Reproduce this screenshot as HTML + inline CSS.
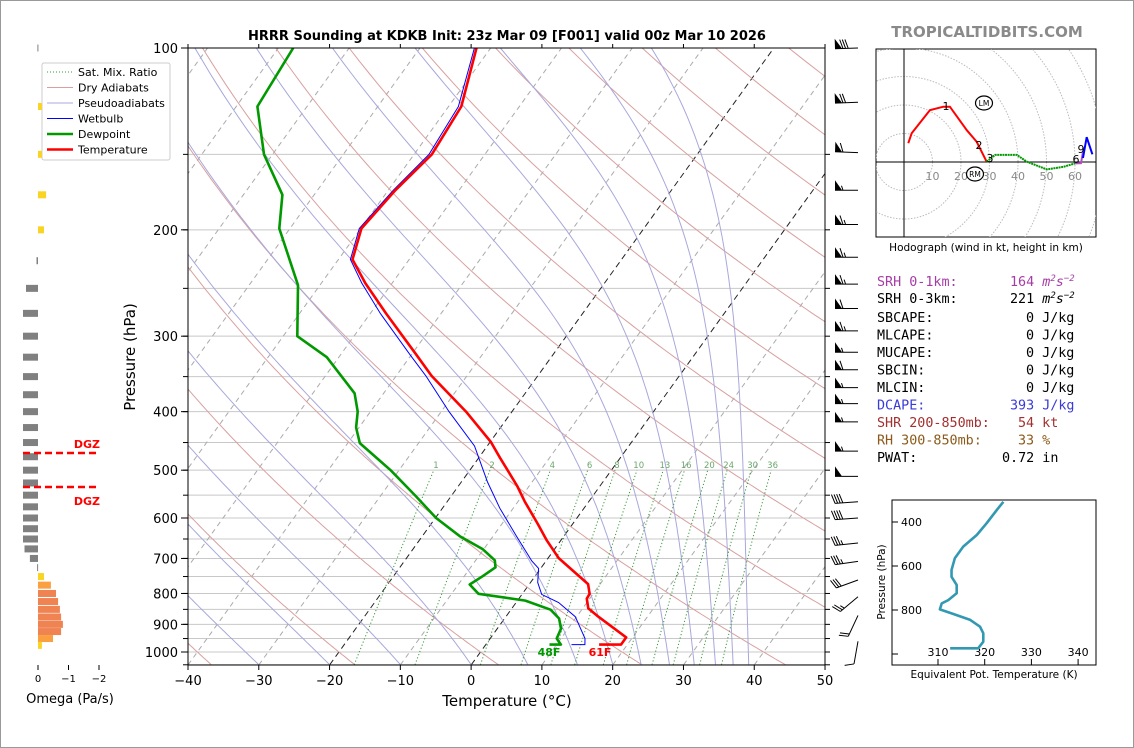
<!DOCTYPE html>
<html><head><meta charset="utf-8"><style>
html,body{margin:0;padding:0;background:#fff}
svg{display:block}
text{font-family:"DejaVu Sans","Liberation Sans",sans-serif}
.mono{font-family:"DejaVu Sans Mono","Liberation Mono",monospace;font-size:13.4px}
</style></head><body>
<svg id="chart" width="1134" height="748" viewBox="0 0 1134 748" xmlns="http://www.w3.org/2000/svg">
<rect x="0.5" y="0.5" width="1133" height="747" fill="#fff" stroke="#999"/>
<defs>
<clipPath id="mainclip"><rect x="188" y="48" width="637" height="617"/></clipPath>
<clipPath id="hodoclip"><rect x="876" y="49" width="220" height="188"/></clipPath>
<clipPath id="thclip"><rect x="892" y="500" width="204" height="165"/></clipPath>
</defs>
<text x="507" y="40" text-anchor="middle" font-size="13" font-weight="bold">HRRR Sounding at KDKB Init: 23z Mar 09 [F001] valid 00z Mar 10 2026</text>
<text x="987" y="37" text-anchor="middle" font-size="15" font-weight="bold" fill="#8a8a8a">TROPICALTIDBITS.COM</text>
<g id="main"></g>
<g id="omega"></g>
<g id="hodo"></g>
<g id="theta"></g>
<g id="stats">
<text class="mono" x="877" y="286" fill="#a63ca6">SRH 0-1km:</text>
<text class="mono" x="1010" y="286" fill="#a63ca6">164 <tspan font-style="italic">m<tspan font-size="9" dy="-5">2</tspan><tspan dy="5">s</tspan><tspan font-size="9" dy="-5">−2</tspan></tspan></text>
<text class="mono" x="877" y="303" fill="#000">SRH 0-3km:</text>
<text class="mono" x="1010" y="303" fill="#000">221 <tspan font-style="italic">m<tspan font-size="9" dy="-5">2</tspan><tspan dy="5">s</tspan><tspan font-size="9" dy="-5">−2</tspan></tspan></text>
<text class="mono" x="877" y="322">SBCAPE:</text>
<text class="mono" x="1026" y="322">0 J/kg</text>
<text class="mono" x="877" y="339.5">MLCAPE:</text>
<text class="mono" x="1026" y="339.5">0 J/kg</text>
<text class="mono" x="877" y="357">MUCAPE:</text>
<text class="mono" x="1026" y="357">0 J/kg</text>
<text class="mono" x="877" y="374.5">SBCIN:</text>
<text class="mono" x="1026" y="374.5">0 J/kg</text>
<text class="mono" x="877" y="392">MLCIN:</text>
<text class="mono" x="1026" y="392">0 J/kg</text>
<text class="mono" x="877" y="409.5" fill="#3a3ad8">DCAPE:</text>
<text class="mono" x="1010" y="409.5" fill="#3a3ad8">393 J/kg</text>
<text class="mono" x="877" y="427" fill="#a33030">SHR 200-850mb:</text>
<text class="mono" x="1018" y="427" fill="#a33030">54 kt</text>
<text class="mono" x="877" y="444.5" fill="#8b5a1a">RH 300-850mb:</text>
<text class="mono" x="1018" y="444.5" fill="#8b5a1a">33 %</text>
<text class="mono" x="877" y="462">PWAT:</text>
<text class="mono" x="1002" y="462">0.72 in</text>
</g>
</svg>
<script>
// ---- Sounding data ----
const tempP=[100,125,150,172,199,224,245,275,322,349,400,449,477,531,564,614,652,699,772,801,816,847,871,946,972,972];
const tempC=[-62.0,-58.2,-57.5,-59.0,-59.9,-58.0,-53.8,-47.8,-39.3,-35.0,-26.5,-19.9,-17.0,-11.7,-9.0,-4.9,-2.1,1.5,8.3,9.5,9.6,10.8,12.8,19.1,19.1,16.0];
const dewP=[100,125,150,175,199,247,300,325,373,400,425,451,500,552,600,643,676,705,724,749,773,801,822,851,880,915,950,972,972];
const dewC=[-87.9,-87.0,-81.2,-74.5,-71.5,-63.1,-58.0,-51.7,-44.1,-41.8,-40.4,-38.3,-31.2,-25.0,-19.9,-14.7,-10.1,-7.3,-6.5,-7.4,-8.4,-6.2,1.1,5.6,7.7,9.0,9.4,10.6,9.0];
const wbP=[100,125,150,172,199,224,245,275,322,349,400,456,523,578,643,707,727,767,803,828,874,950,972,972];
const wbC=[-62.3,-58.6,-57.9,-59.3,-60.2,-58.3,-54.3,-48.6,-40.2,-35.8,-28.9,-21.8,-16.3,-11.9,-6.7,-2.0,-0.3,1.0,2.8,6.0,9.8,13.4,14.0,12.1];
const tempTicks=[-40,-30,-20,-10,0,10,20,30,40,50];
const presTicks=[100,200,300,400,500,600,700,800,900,1000];
const mixRatios=[1,2,4,6,8,10,13,16,20,24,30,36];
const dryThetaC=[-40,-20,0,20,40,60,80,100,120,140,160,180,200,220,240];
const moistT0=[-30,-20,-10,0,8,15,20,24,28,31.5,34.5,37,39.2];
// wind barbs: pressure, speed (kt), direction (deg from)
const barbP=[100,123,149,172,196,222,246,270,294,319,341,365,388,416,465,512,564,600,660,708,760,810,870,960];
const barbSpd=[80,70,60,55,65,65,65,60,65,55,60,55,55,55,55,50,40,40,35,35,30,25,20,10];
const barbDir=[268,268,272,270,270,270,270,270,270,270,270,270,270,270,270,270,266,266,264,262,250,230,205,190];
// omega
const omegaP=[100,125,150,175,200,225,250,275,300,325,350,375,400,425,450,475,500,525,550,575,600,625,650,675,700,725,750,775,800,825,850,875,900,925,950,975];
const omegaV=[0.02,-0.13,-0.13,-0.27,-0.2,0.05,0.4,0.5,0.5,0.5,0.5,0.5,0.5,0.5,0.5,0.5,0.5,0.5,0.5,0.5,0.5,0.5,0.5,0.45,0.27,0.03,-0.2,-0.43,-0.6,-0.67,-0.73,-0.77,-0.83,-0.77,-0.5,-0.13];
// hodograph (u,v in kt)
const hodoRedU=[1.5,2.7,9.1,13.8,16.1,22,25.5,29];
const hodoRedV=[6.6,10.1,18.2,19.4,19.4,11.2,7.1,0.1];
const hodoGreenU=[29,32,39.6,43.1,50.1,55.9,60];
const hodoGreenV=[0.1,2.5,2.5,0.1,-2.6,-1.7,-0.5];
const hodoPurpU=[60,62.1,62.8];
const hodoPurpV=[-0.5,-0.4,3.5];
const hodoBlueU=[62.8,64.1,66.1];
const hodoBlueV=[1.4,8.7,2.7];
// theta-e
const thetaEP=[308,345,406,459,512,565,618,649,686,724,755,770,797,818,845,876,906,944,974,974];
const thetaEV=[324.0,322.6,320.4,318.3,315.4,313.6,312.9,312.9,314.0,314.0,312.2,310.8,310.4,313.3,316.9,319.0,319.7,319.7,318.6,312.6];

const NS='http://www.w3.org/2000/svg';
function mk(parent,tag,attrs){const e=document.createElementNS(NS,tag);for(const k in attrs)e.setAttribute(k,attrs[k]);parent.appendChild(e);return e;}
const Y=p=>48+Math.log10(p/100)*604;
const X=(t,p)=>188+(t+40)*7.078+0.72*(665-Y(p));
const ptsStr=(P,T)=>P.map((p,i)=>X(T[i],p).toFixed(1)+','+Y(p).toFixed(1)).join(' ');

const main=document.getElementById('main');
const g=mk(main,'g',{'clip-path':'url(#mainclip)'});
for(let p=150;p<=1050;p+=50){const l=mk(g,'line',{x1:188,x2:825,y1:Y(p),y2:Y(p),stroke:'#c8c8c8','stroke-width':1});

}
for(let t=-140;t<=50;t+=10){const blk=(t===0||t===-20);const l=mk(g,'line',{x1:X(t,1050),y1:Y(1050),x2:X(t,100),y2:Y(100),stroke:blk?'#222':'#aaa','stroke-width':1,'stroke-dasharray':blk?'6,4':'5,4'});

}
const pLevels=[];for(let p=1050;p>=100;p-=5)pLevels.push(p);
dryThetaC.forEach(th=>{const T=pLevels.map(p=>(th+273.15)*Math.pow(p/1000,0.286)-273.15);
const l=mk(g,'polyline',{points:ptsStr(pLevels,T),fill:'none',stroke:'#d9a0a0','stroke-width':1});

});
moistT0.forEach(t0=>{let T=t0+273.15;const out=[];const dp=5;
for(let i=0;i<pLevels.length;i++){const p=pLevels[i];out.push(T-273.15);
const es=6.112*Math.exp(17.67*(T-273.15)/(T-29.65));const rs=0.622*es/Math.max(p-es,1);
const d=(287*T+2.5e6*rs)/(p*(1005+2.5e6*2.5e6*rs*0.622/(287*T*T)));T-=d*dp;}
const l=mk(g,'polyline',{points:ptsStr(pLevels,out),fill:'none',stroke:'#a8a8dc','stroke-width':1});

});
const mrP=[];for(let p=1050;p>=500;p-=10)mrP.push(p);
const tdOf=(w,p)=>{const e=w*p/(622+w);const a=Math.log(e/6.112);return 243.5*a/(17.67-a);};
mixRatios.forEach(w=>{const T=mrP.map(p=>tdOf(w,p));
const l=mk(g,'polyline',{points:ptsStr(mrP,T),fill:'none',stroke:'#3a9a3a','stroke-width':1,'stroke-dasharray':'1.2,2.2'});


const tx=mk(main,'text',{x:X(tdOf(w,490),490),y:468,'font-size':8.5,fill:'#6aa86a','text-anchor':'middle'});tx.textContent=w;

});
let l=mk(g,'polyline',{points:ptsStr(wbP,wbC),fill:'none',stroke:'#0000ff','stroke-width':1});


l=mk(g,'polyline',{points:ptsStr(dewP,dewC),fill:'none',stroke:'#009900','stroke-width':2.6,'stroke-linejoin':'round'});


l=mk(g,'polyline',{points:ptsStr(tempP,tempC),fill:'none',stroke:'#ff0000','stroke-width':2.6,'stroke-linejoin':'round'});


let t=mk(main,'text',{x:549,y:656,'font-size':11,'font-weight':'bold',fill:'#009900','text-anchor':'middle'});t.textContent='48F';


t=mk(main,'text',{x:600,y:656,'font-size':11,'font-weight':'bold',fill:'#ff0000','text-anchor':'middle'});t.textContent='61F';


l=mk(main,'rect',{x:188,y:48,width:637,height:617,fill:'none',stroke:'#000','stroke-width':1});


tempTicks.forEach(v=>{const x=188+(v+40)*7.078;mk(main,'line',{x1:x,x2:x,y1:665,y2:670,stroke:'#000'});mk(main,'line',{x1:x,x2:x,y1:48,y2:44,stroke:'#000'});
const tx=mk(main,'text',{x:x,y:685,'font-size':13,'text-anchor':'middle'});tx.textContent=(v<0?'\u2212'+(-v):v);

});
for(let p=150;p<=1050;p+=50){mk(main,'line',{x1:183,x2:188,y1:Y(p),y2:Y(p),stroke:'#000'});mk(main,'line',{x1:825,x2:830,y1:Y(p),y2:Y(p),stroke:'#000'});}
presTicks.forEach(p=>{mk(main,'line',{x1:181,x2:188,y1:Y(p),y2:Y(p),stroke:'#000'});
const tx=mk(main,'text',{x:178,y:Y(p)+5,'font-size':13,'text-anchor':'end'});tx.textContent=p;

});
t=mk(main,'text',{x:507,y:706,'font-size':15,'text-anchor':'middle'});t.textContent='Temperature (°C)';


t=mk(main,'text',{x:135,y:357,'font-size':15,'text-anchor':'middle',transform:'rotate(-90 135 357)'});t.textContent='Pressure (hPa)';


// wind barbs
barbP.forEach((p,i)=>{const bx=858,by=Y(p);const a=barbDir[i]*Math.PI/180;
const dx=Math.sin(a),dy=-Math.cos(a);
const L=23;const tx=bx+dx*L,ty=by+dy*L;
const bg=mk(main,'g',{});


mk(bg,'line',{x1:bx,y1:by,x2:tx,y2:ty,stroke:'#000','stroke-width':1});
let s=barbSpd[i];let pos=0;const nx=dy,ny=-dx;
const side=(ny<=0)?1:-1;const qx=nx*side,qy=ny*side;
while(s>=50){const ax=tx-dx*pos,ay=ty-dy*pos;mk(bg,'polygon',{points:`${ax},${ay} ${ax+qx*10},${ay+qy*10} ${ax-dx*7},${ay-dy*7}`,fill:'#000'});pos+=8;s-=50;}
while(s>=10){const ax=tx-dx*pos,ay=ty-dy*pos;mk(bg,'line',{x1:ax,y1:ay,x2:ax+qx*9+dx*3,y2:ay+qy*9+dy*3,stroke:'#000','stroke-width':1});pos+=2.6;s-=10;}
if(s>=5){const ax=tx-dx*pos,ay=ty-dy*pos;mk(bg,'line',{x1:ax,y1:ay,x2:ax+qx*4.5+dx*1.5,y2:ay+qy*4.5+dy*1.5,stroke:'#000','stroke-width':1});}
});
// legend
const lg=mk(main,'g',{});


mk(lg,'rect',{x:42,y:63,width:128,height:97,rx:2,fill:'#fff',stroke:'#ccc'});
const legItems=[['Sat. Mix. Ratio','#3a9a3a',1,'1,2'],['Dry Adiabats','#d9a0a0',1,''],['Pseudoadiabats','#a8a8dc',1,''],['Wetbulb','#0000ff',1,''],['Dewpoint','#009900',2.6,''],['Temperature','#ff0000',2.6,'']];
legItems.forEach((it,i)=>{const y=72+i*15.5;const e=mk(lg,'g',{});


mk(e,'line',{x1:47,x2:73,y1:y,y2:y,stroke:it[1],'stroke-width':it[2],'stroke-dasharray':it[3]});
const tx=mk(e,'text',{x:78,y:y+4,'font-size':11});tx.textContent=it[0];});

// omega panel
const om=document.getElementById('omega');
omegaP.forEach((p,i)=>{const v=omegaV[i];const y=Y(p);const w=Math.abs(v)*30;const x=v>0?38-w:38;
let c='#808080';if(v<0){c=Math.abs(v)<0.3?'#f9d423':(Math.abs(v)<0.55?'#fba040':'#f08352');}
const r=mk(om,'rect',{x:x,y:y-3.5,width:Math.max(w,1),height:7,fill:c});

});
[[453,444],[487,501]].forEach(([y,ty])=>{const d=mk(om,'line',{x1:23,x2:99,y1:y,y2:y,stroke:'#ff0000','stroke-width':2.5,'stroke-dasharray':'7,4'});


const tx=mk(om,'text',{x:100,y:ty+4,'font-size':11,'font-weight':'bold',fill:'#ff0000','text-anchor':'end'});tx.textContent='DGZ';

});
[[0,'0'],[-1,'\u22121'],[-2,'\u22122']].forEach(([v,s])=>{const x=38-v*30.5;mk(om,'line',{x1:x,x2:x,y1:665,y2:670,stroke:'#000'});
const tx=mk(om,'text',{x:x,y:682,'font-size':10,'text-anchor':'middle'});tx.textContent=s;

});
t=mk(om,'text',{x:70,y:703,'font-size':13,'text-anchor':'middle'});t.textContent='Omega (Pa/s)';



// hodograph
const hd=document.getElementById('hodo');const HX=u=>904+u*2.85,HY=v=>162-v*2.85;
mk(hd,'rect',{x:876,y:49,width:220,height:188,fill:'#fff',stroke:'#000'});
const hg=mk(hd,'g',{'clip-path':'url(#hodoclip)'});
for(let r=10;r<=80;r+=10){const c=mk(hg,'circle',{cx:904,cy:162,r:r*2.85,fill:'none',stroke:'#bbb','stroke-dasharray':'1.5,1.5'});

}
mk(hg,'line',{x1:904,x2:904,y1:49,y2:237,stroke:'#000'});mk(hg,'line',{x1:876,x2:1096,y1:162,y2:162,stroke:'#000'});
[10,20,30,40,50,60].forEach(k=>{const tx=mk(hg,'text',{x:HX(k),y:180,'font-size':11,fill:'#888','text-anchor':'middle'});tx.textContent=k;

});
const hline=(U,V,c,name,dash)=>{const e=mk(hg,'polyline',{points:U.map((u,i)=>HX(u)+','+HY(V[i])).join(' '),fill:'none',stroke:c,'stroke-width':2,'stroke-dasharray':dash||''});

};
hline(hodoRedU,hodoRedV,'#ff0000','hodo-0-3km');
hline(hodoGreenU,hodoGreenV,'#009900','hodo-3-6km','2,0.6');
hline(hodoPurpU,hodoPurpV,'#b050c0','hodo-6-9km');
hline(hodoBlueU,hodoBlueV,'#0000ff','hodo-9-12km');
[['1',946,110],['2',979,149],['3',990,162],['6',1076,163],['9',1081,153]].forEach(([s,x,y])=>{const tx=mk(hg,'text',{x:x,y:y,'font-size':11,'text-anchor':'middle'});tx.textContent=s;

});
[['LM',984,103],['RM',975,174]].forEach(([s,x,y])=>{const e=mk(hg,'g',{});


mk(e,'ellipse',{cx:x,cy:y,rx:8.5,ry:7,fill:'none',stroke:'#000','stroke-width':1.2});
const tx=mk(e,'text',{x:x,y:y+3,'font-size':7.5,'text-anchor':'middle'});tx.textContent=s;});
t=mk(hd,'text',{x:986,y:251,'font-size':10.5,'text-anchor':'middle'});t.textContent='Hodograph (wind in kt, height in km)';



// theta-e inset
const th=document.getElementById('theta');const TX=v=>938+(v-310)*4.67,TY=p=>522+(p-400)*0.22;
mk(th,'rect',{x:892,y:500,width:204,height:165,fill:'#fff',stroke:'#000'});
[400,600,800,1000].forEach(p=>{mk(th,'line',{x1:892,x2:898,y1:TY(p),y2:TY(p),stroke:'#000'});
if(p<1000){const tx=mk(th,'text',{x:922,y:TY(p)+4,'font-size':11,'text-anchor':'end'});tx.textContent=p;

}});
[310,320,330,340].forEach(v=>{mk(th,'line',{x1:TX(v),x2:TX(v),y1:665,y2:659,stroke:'#000'});
const tx=mk(th,'text',{x:TX(v),y:656,'font-size':11,'text-anchor':'middle'});tx.textContent=v;

});
const thg=mk(th,'g',{'clip-path':'url(#thclip)'});
l=mk(thg,'polyline',{points:thetaEP.map((p,i)=>TX(thetaEV[i])+','+TY(p)).join(' '),fill:'none',stroke:'#3399b3','stroke-width':2.6,'stroke-linejoin':'round'});


t=mk(th,'text',{x:885,y:582,'font-size':10.5,'text-anchor':'middle',transform:'rotate(-90 885 582)'});t.textContent='Pressure (hPa)';


t=mk(th,'text',{x:994,y:678,'font-size':10.5,'text-anchor':'middle'});t.textContent='Equivalent Pot. Temperature (K)';


</script>
</body></html>
